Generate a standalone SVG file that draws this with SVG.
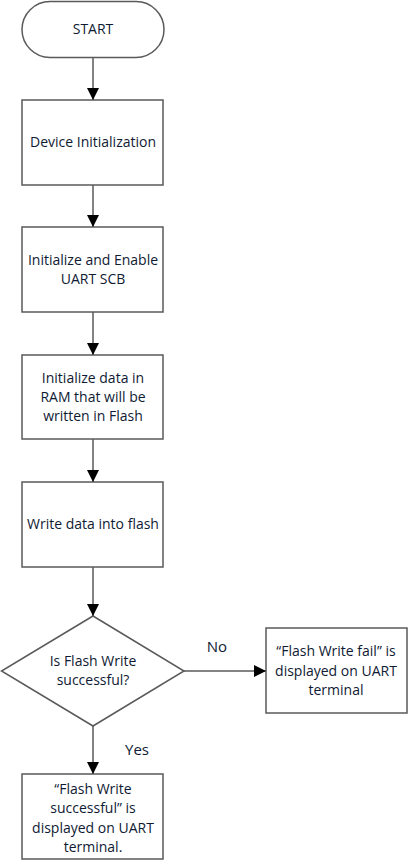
<svg xmlns="http://www.w3.org/2000/svg" width="411" height="864" viewBox="0 0 411 864">
<style>
.n{fill:#fff;stroke:#5a5a5a;stroke-width:1.5}
.t{font-family:"Open Sans","Liberation Sans",sans-serif;font-size:14px;fill:#0f1a33;text-anchor:middle}
.c{stroke:#5a5a5a;stroke-width:1.5;fill:none;marker-end:url(#a)}
</style>
<defs>
<marker id="a" markerWidth="12" markerHeight="12" refX="12" refY="6" orient="auto" markerUnits="userSpaceOnUse">
<path d="M0,0 L12,6 L0,12 Z" fill="#000"/>
</marker>
</defs>
<g id="start"><rect class="n" x="22" y="1.5" width="142" height="56" rx="28" ry="28"/><text class="t" x="93" y="34">START</text></g>
<g id="init"><rect class="n" x="22" y="100" width="141" height="85"/><text class="t" x="93" y="147">Device Initialization</text></g>
<g id="uart"><rect class="n" x="22" y="227" width="141" height="85"/><text class="t" x="93" y="265">Initialize and Enable</text><text class="t" x="93" y="284">UART SCB</text></g>
<g id="data"><rect class="n" x="22" y="355" width="141" height="84"/><text class="t" x="93" y="383">Initialize data in</text><text class="t" x="93" y="402">RAM that will be</text><text class="t" x="93" y="421">written in Flash</text></g>
<g id="write"><rect class="n" x="22" y="482" width="141" height="85"/><text class="t" x="93" y="529">Write data into flash</text></g>
<g id="decision"><polygon class="n" points="93,616 184,671 93,726 1.5,671"/><text class="t" x="93" y="666">Is Flash Write</text><text class="t" x="93" y="685">successful?</text></g>
<g id="fail"><rect class="n" x="266" y="628" width="141" height="85"/><text class="t" x="336" y="656">“Flash Write fail” is</text><text class="t" x="336" y="676">displayed on UART</text><text class="t" x="336" y="695">terminal</text></g>
<g id="ok"><rect class="n" x="22" y="774" width="141" height="85"/><text class="t" x="93" y="794">“Flash Write</text><text class="t" x="93" y="813">successful” is</text><text class="t" x="93" y="833">displayed on UART</text><text class="t" x="93" y="852">terminal.</text></g>
<g id="connectors">
<line class="c" x1="93" y1="58" x2="93" y2="100"/>
<line class="c" x1="93" y1="185" x2="93" y2="227"/>
<line class="c" x1="93" y1="312" x2="93" y2="355"/>
<line class="c" x1="93" y1="439" x2="93" y2="482"/>
<line class="c" x1="93" y1="567" x2="93" y2="616"/>
<line class="c" x1="184" y1="671" x2="266" y2="671"/>
<line class="c" x1="93" y1="726" x2="93" y2="774"/>
<text class="t" x="217" y="652" style="font-size:15px">No</text>
<text class="t" x="137" y="755" style="font-size:15px">Yes</text>
</g>
</svg>
